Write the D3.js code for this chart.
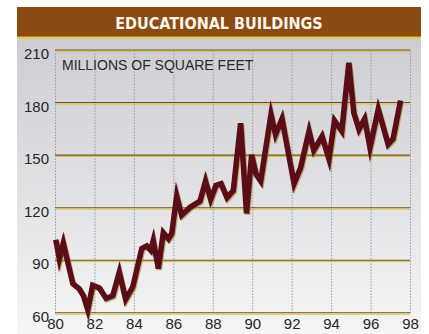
<!DOCTYPE html>
<html>
<head>
<meta charset="utf-8">
<script src="https://cdn.jsdelivr.net/npm/d3@7"></script>
<style>
  html, body { margin: 0; padding: 0; background: #ffffff; }
  svg { display: block; }
</style>
</head>
<body>
<svg id="chart" width="429" height="334"></svg>
<script>
// Educational building construction, millions of square feet
const periods = [80.04, 80.22, 80.42, 80.90, 81.23, 81.44, 81.66, 81.91, 82.25, 82.59,
  82.93, 83.26, 83.58, 83.94, 84.40, 84.65, 84.85, 84.98, 85.24, 85.49,
  85.75, 85.92, 86.17, 86.42, 86.85, 87.35, 87.63, 87.89, 88.16, 88.42,
  88.72, 89.04, 89.41, 89.71, 89.97, 90.19, 90.43, 90.95, 91.18, 91.51,
  92.12, 92.45, 92.88, 93.12, 93.54, 93.89, 94.17, 94.54, 94.90, 95.15,
  95.41, 95.70, 95.97, 96.39, 96.89, 97.14, 97.52];
const sqft = [102, 91, 100, 77, 74, 70, 62, 76, 74.5, 68.5,
  70, 83.5, 68, 75, 97, 98.5, 96, 101.5, 85.5, 106,
  102.5, 105.5, 127, 116, 120.5, 124, 135.5, 125, 133, 134,
  126, 130, 168.5, 117, 150.5, 139.5, 135.5, 173.5, 162, 171,
  134, 143, 164, 153, 161, 148, 170, 164, 203, 174.5,
  165, 171, 154.5, 176.5, 156.5, 159.5, 181.5];
const yearTicks = [80, 82, 84, 86, 88, 90, 92, 94, 96, 98];
const valueTicks = [60, 90, 120, 150, 180, 210];
const title = "EDUCATIONAL BUILDINGS";
const unitLabel = "MILLIONS OF SQUARE FEET";

const svg = d3.select("#chart");

const x = d3.scaleLinear().domain([80, 98]).range([55, 410]);
const y = d3.scaleLinear().domain([60, 210]).range([313.3, 50.5]);

// panel background with soft vertical gradient
const defs = svg.append("defs");
const grad = defs.append("linearGradient").attr("id", "panelGrad")
  .attr("x1", 0).attr("y1", 0).attr("x2", 0).attr("y2", 1);
grad.append("stop").attr("offset", "0%").attr("stop-color", "#cdcdd2");
grad.append("stop").attr("offset", "55%").attr("stop-color", "#e3e3e6");
grad.append("stop").attr("offset", "100%").attr("stop-color", "#f5f5f5");

svg.append("rect").attr("x", 17).attr("y", 38).attr("width", 404).attr("height", 296)
  .attr("fill", "url(#panelGrad)");

// title band
svg.append("rect").attr("x", 17).attr("y", 7).attr("width", 404).attr("height", 30)
  .attr("fill", "#8a4a12");
svg.append("rect").attr("x", 17).attr("y", 36.5).attr("width", 404).attr("height", 2)
  .attr("fill", "#e6c63c");
svg.append("text").attr("x", 219).attr("y", 28.5)
  .attr("text-anchor", "middle")
  .attr("font-family", "'DejaVu Sans Condensed', 'DejaVu Sans', sans-serif")
  .attr("font-stretch", "condensed")
  .attr("font-weight", "bold").attr("font-size", 16)
  .attr("fill", "#fbf6ec").text(title);

// vertical dotted gridlines
svg.append("g").selectAll("line").data(yearTicks).join("line")
  .attr("x1", d => x(d) + 0.5).attr("x2", d => x(d) + 0.5)
  .attr("y1", y(210)).attr("y2", y(60))
  .attr("stroke", "#959bac").attr("stroke-width", 1)
  .attr("stroke-dasharray", "1.5,1.5");

// horizontal gridlines: dark rule over a yellow rule
const hg = svg.append("g");
hg.selectAll("line.dark").data(valueTicks).join("line").attr("class", "dark")
  .attr("x1", x(80)).attr("x2", x(98))
  .attr("y1", d => y(d) - 0.5).attr("y2", d => y(d) - 0.5)
  .attr("stroke", "#6e4f22").attr("stroke-width", 1.1);
hg.selectAll("line.yel").data(valueTicks).join("line").attr("class", "yel")
  .attr("x1", x(80)).attr("x2", x(98))
  .attr("y1", d => y(d) + 0.9).attr("y2", d => y(d) + 0.9)
  .attr("stroke", "#d9c03a").attr("stroke-width", 1);

// axes
const yAxis = svg.append("g").attr("transform", `translate(${x(80)},0)`)
  .call(d3.axisLeft(y).tickValues(valueTicks).tickSize(0).tickPadding(6));
const xAxis = svg.append("g").attr("transform", `translate(0,${y(60)})`)
  .call(d3.axisBottom(x).tickValues(yearTicks).tickSize(0).tickPadding(5)
    .tickFormat(d3.format("d")));
[yAxis, xAxis].forEach(g => {
  g.select(".domain").remove();
  g.selectAll("text")
    .attr("font-family", "'Liberation Sans', Arial, sans-serif")
    .attr("font-size", 15).attr("fill", "#262626");
});
yAxis.selectAll("text").attr("dy", "0.55em");

// unit label
svg.append("text").attr("x", 62).attr("y", 70)
  .attr("font-family", "'Liberation Sans', Arial, sans-serif")
  .attr("font-size", 14).attr("fill", "#2a2a2a").text(unitLabel);

// series line with a faint olive shadow
const pts = periods.map((p, i) => [p, sqft[i]]);
const line = d3.line().x(d => x(d[0])).y(d => y(d[1]));
svg.append("path").datum(pts).attr("d", line)
  .attr("transform", "translate(1,1.2)")
  .attr("fill", "none").attr("stroke", "#a58a3a").attr("stroke-opacity", 0.7)
  .attr("stroke-width", 5.5).attr("stroke-linejoin", "miter").attr("stroke-miterlimit", 6);
svg.append("path").datum(pts).attr("d", line)
  .attr("fill", "none").attr("stroke", "#5a0c17")
  .attr("stroke-width", 5.5).attr("stroke-linejoin", "miter").attr("stroke-miterlimit", 6);
</script>
</body>
</html>
